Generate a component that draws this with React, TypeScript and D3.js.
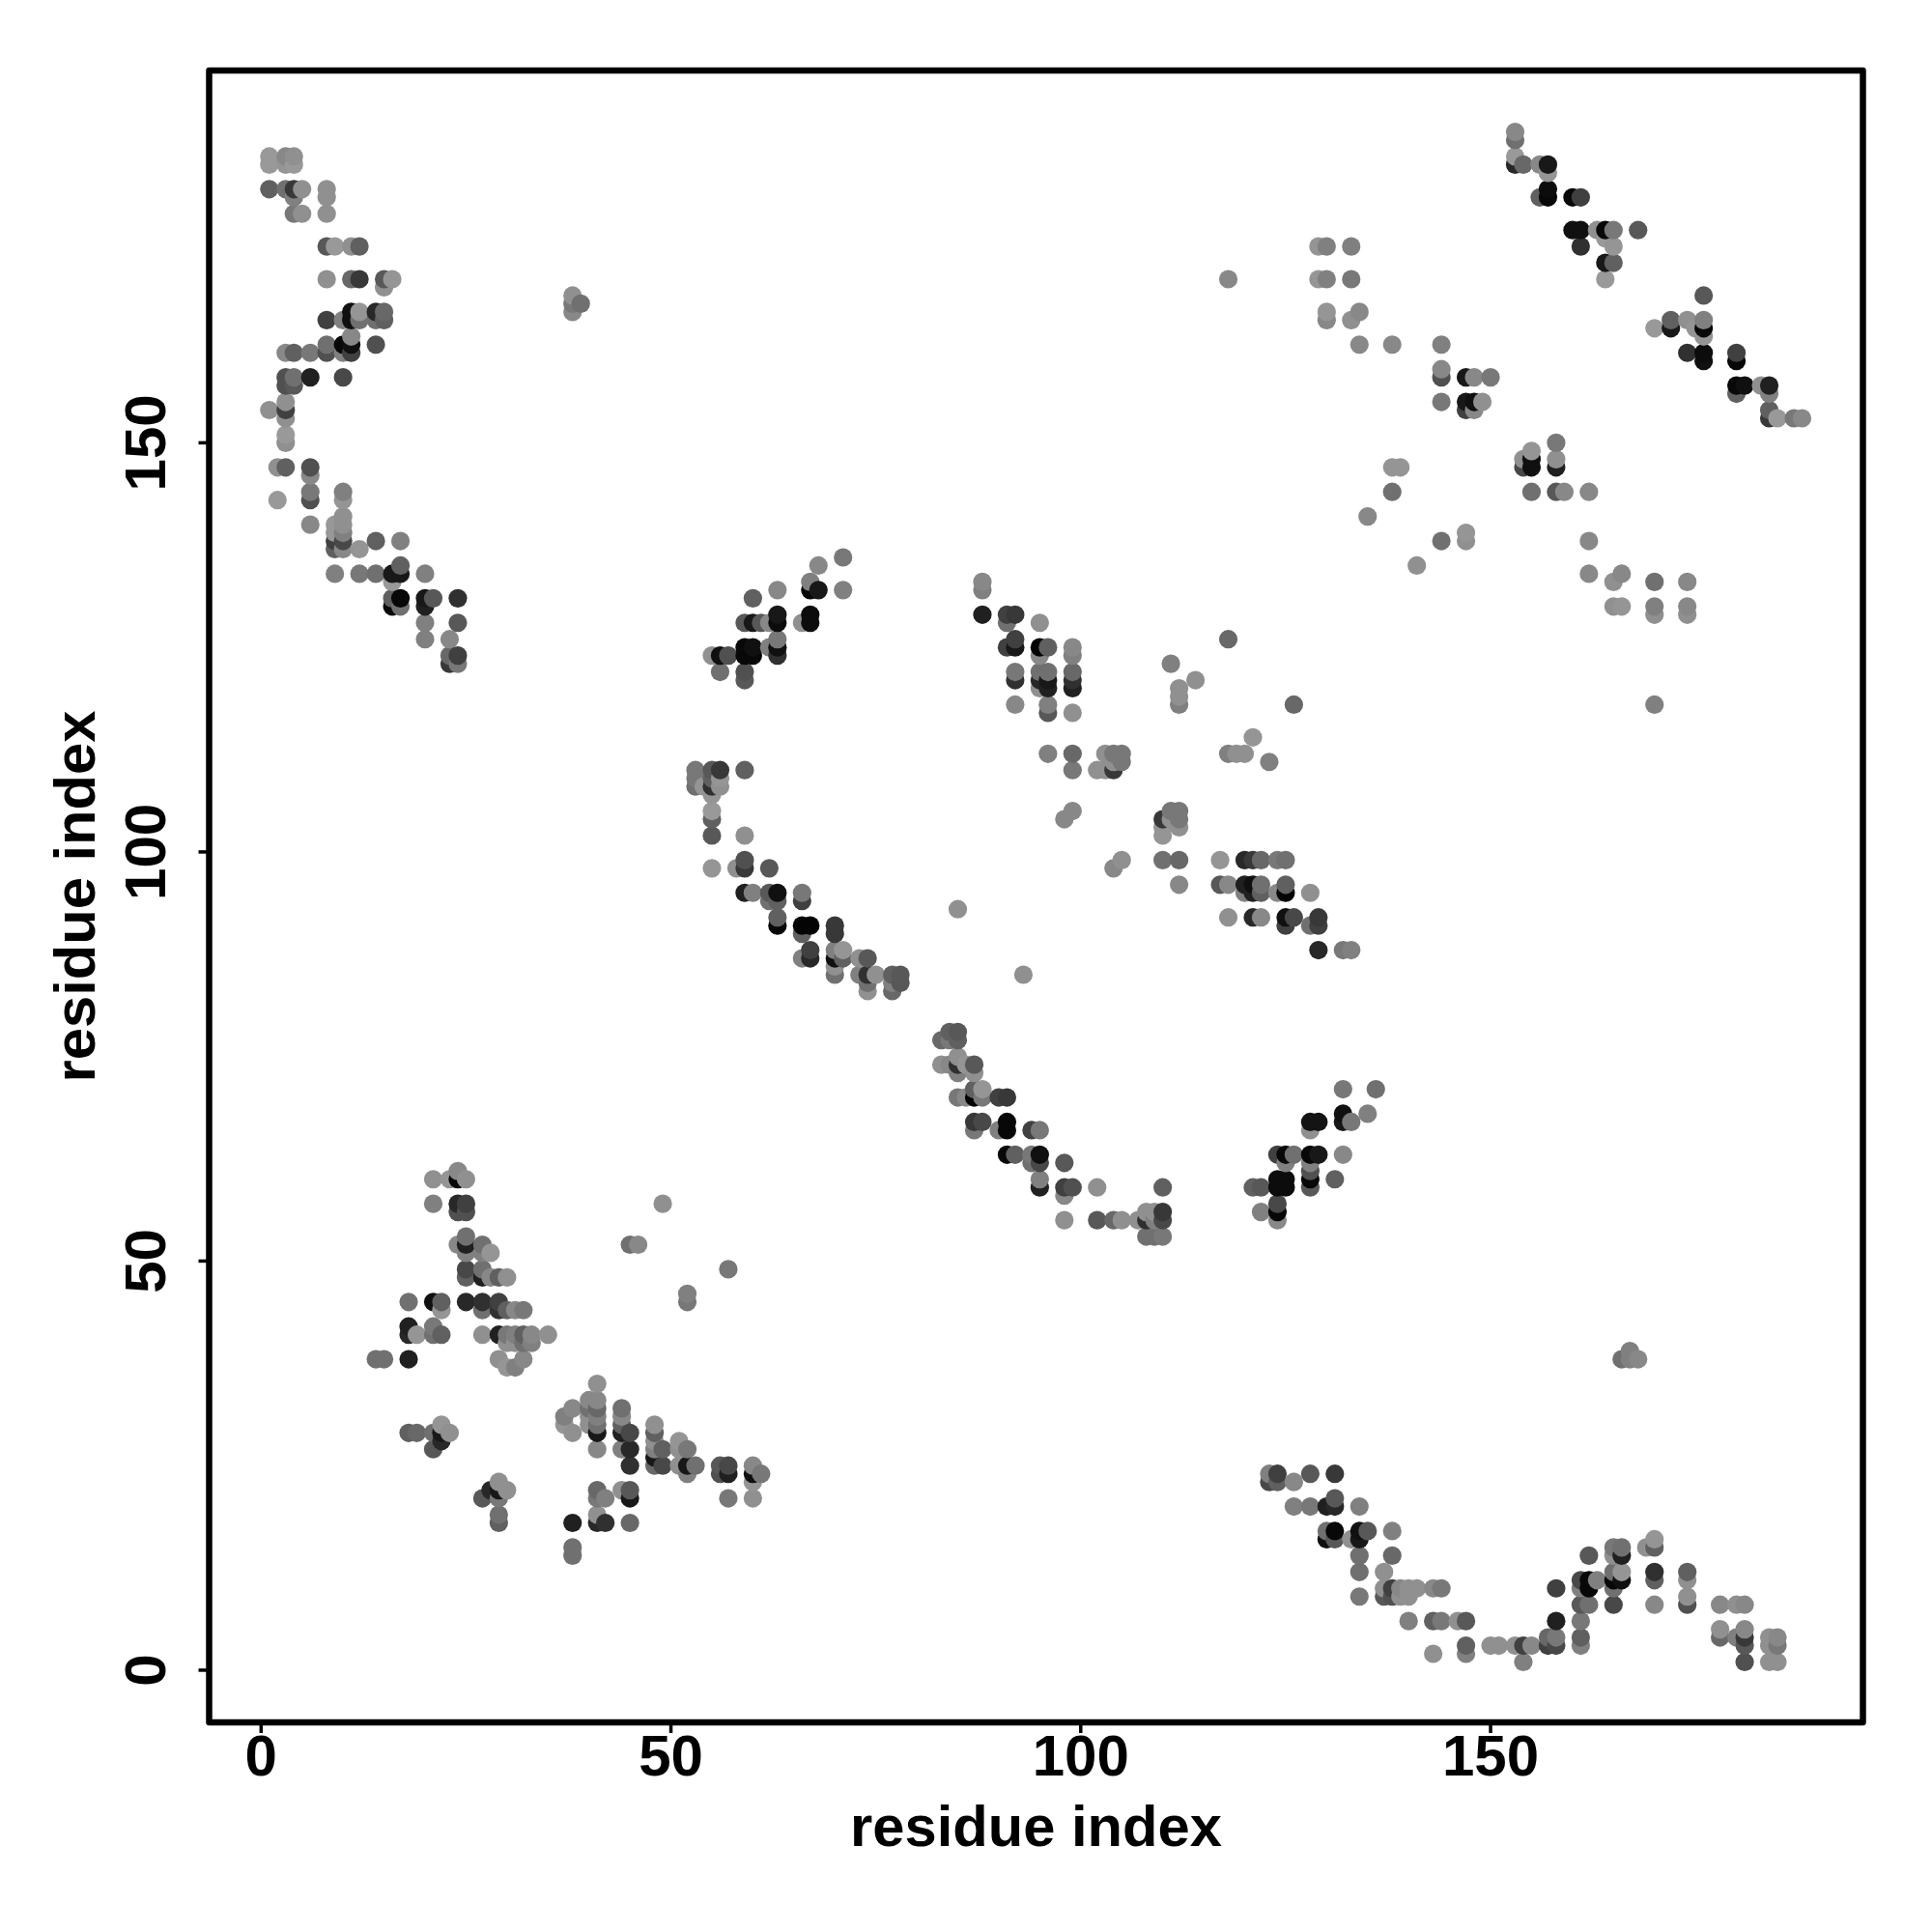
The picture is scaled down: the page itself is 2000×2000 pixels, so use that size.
// Residue contact map, drawn as grey dots on an integer residue grid
import React from 'react';
import * as d3 from 'd3';

type Contact = [number, number, number]; // residue i, residue j, grey level

const tickValues = [0, 50, 100, 150];
const axisTitle = 'residue index';

const upperLeftContacts: Contact[] = [
  [1,185,0x99],[1,184,0x99],[3,185,0x88],[3,184,0x95],[4,185,0x90],[4,184,0x99],
  [1,181,0x60],[3,181,0x70],[4,181,0x38],[5,181,0x90],[4,180,0x80],[4,178,0x78],[5,178,0x90],
  [8,181,0x90],[8,180,0x90],[8,178,0x90],[8,174,0x58],[9,174,0x99],[11,174,0x90],[12,174,0x60],
  [8,170,0x90],[11,170,0x68],[12,170,0x38],[15,170,0x58],[16,170,0x95],[15,169,0x90],
  [8,165,0x40],[10,165,0x80],[11,166,0x10],[11,165,0x10],[12,166,0x95],[12,165,0x70],
  [14,166,0x28],[15,166,0x68],[14,165,0x70],[15,165,0x60],[11,163,0x88],[10,162,0x08],[11,162,0x10],
  [14,162,0x50],[8,162,0x70],[8,161,0x50],[10,161,0x80],[11,161,0x40],[3,161,0x88],[4,161,0x60],[6,161,0x78],
  [3,158,0x50],[4,158,0x70],[3,157,0x50],[4,157,0x58],[6,158,0x20],[10,158,0x48],
  [3,155,0x90],[3,154,0x40],[1,154,0x90],[3,153,0x90],[3,151,0x99],[3,150,0x90],
  [2,147,0x90],[3,147,0x60],[6,147,0x50],[6,146,0x88],
  [6,144,0x78],[6,143,0x50],[2,143,0x99],[6,140,0x88],[10,144,0x80],[10,143,0x95],
  [10,141,0x90],[10,140,0x90],[9,140,0x98],[10,139,0x80],[9,139,0x98],[9,138,0x40],[10,138,0x48],
  [9,137,0x60],[10,137,0x88],[12,137,0x95],[14,138,0x60],[17,138,0x80],
  [9,134,0x80],[12,134,0x78],[14,134,0x70],[16,134,0x18],[17,134,0x18],[17,135,0x60],[16,133,0x99],[20,134,0x80],
  [16,131,0x60],[17,131,0x08],[16,130,0x08],[17,130,0x70],[20,131,0x18],[21,131,0x58],[20,130,0x20],[24,131,0x30],
  [20,128,0x80],[24,128,0x58],[20,126,0x80],[23,126,0x88],[23,124,0x68],[24,124,0x40],[23,123,0x38],[24,123,0x78],
  [38,168,0x90],[38,167,0x78],[38,166,0x88],[39,167,0x70],
];

const upperRightContacts: Contact[] = [
  [153,188,0x88],[153,187,0x70],[153,185,0x99],[153,184,0x28],[154,184,0x68],[156,184,0x88],[157,184,0x18],[157,183,0x95],
  [157,181,0x0c],[157,180,0x08],[156,180,0x60],[160,180,0x08],[161,180,0x40],
  [160,176,0x10],[161,176,0x10],[163,176,0x90],[164,176,0x08],[165,176,0x78],[164,175,0x99],[165,174,0x95],[161,174,0x30],
  [164,172,0x18],[165,172,0x60],[164,170,0x99],[168,176,0x58],[176,168,0x58],[170,164,0x99],[172,165,0x60],[172,164,0x18],
  [174,165,0x90],[175,164,0x95],[176,165,0x80],[176,164,0x08],[176,163,0x95],[174,161,0x30],[176,161,0x0c],[176,160,0x10],
  [180,161,0x40],[180,160,0x08],[180,157,0x08],[181,157,0x10],[183,157,0x90],[184,157,0x20],[180,156,0x60],[184,156,0x80],
  [184,154,0x60],[184,153,0x38],[185,153,0x99],[187,153,0x78],[188,153,0x88],
  [129,174,0x95],[130,174,0x80],[133,174,0x80],[129,170,0x95],[130,170,0x80],[133,170,0x78],[118,170,0x88],
  [130,166,0x95],[130,165,0x88],[134,166,0x88],[133,165,0x90],[134,162,0x88],[138,162,0x88],[144,162,0x80],
  [144,159,0x88],[144,158,0x50],[144,155,0x78],[147,158,0x18],[148,158,0x88],[150,158,0x78],
  [147,155,0x18],[148,155,0x10],[149,155,0x90],[147,154,0x40],[148,154,0x88],
  [158,150,0x78],[158,148,0x90],[158,147,0x20],[154,148,0x90],[154,147,0x48],[155,149,0x95],[155,148,0x10],[155,147,0x10],
  [155,144,0x70],[158,144,0x58],[159,144,0x88],[162,144,0x88],[138,147,0x95],[139,147,0x95],[138,144,0x70],[135,141,0x88],
  [144,138,0x70],[147,139,0x95],[147,138,0x90],[141,135,0x90],[162,138,0x88],[162,134,0x88],[166,134,0x88],[165,133,0x90],
  [170,133,0x70],[170,130,0x80],[170,129,0x90],[165,130,0x90],[166,130,0x95],[170,118,0x80],
  [174,133,0x88],[174,130,0x88],[174,129,0x90],
];

const middleLeftContacts: Contact[] = [
  [71,136,0x78],[68,135,0x88],[67,133,0x80],[67,132,0x08],[68,132,0x18],[71,132,0x80],[63,132,0x88],[60,131,0x60],
  [59,128,0x58],[60,128,0x18],[61,128,0x58],[62,128,0x88],[63,129,0x18],[63,128,0x0c],[66,128,0x90],[67,129,0x0c],[67,128,0x0c],
  [63,126,0x78],[62,125,0x80],[63,125,0x10],[63,124,0x30],[59,125,0x08],[60,125,0x10],[59,124,0x08],[60,124,0x08],
  [55,124,0x90],[56,124,0x10],[57,124,0x50],[56,122,0x70],[59,122,0x50],[59,121,0x58],
  [53,110,0x78],[55,110,0x58],[56,110,0x38],[59,110,0x60],[53,109,0x78],[53,108,0x70],[54,108,0x95],
  [55,109,0x60],[56,109,0x95],[55,108,0x30],[56,108,0x90],[55,107,0x95],[55,105,0x99],[55,104,0x60],[55,102,0x58],[59,102,0x90],
  [55,98,0x95],[58,98,0x90],[59,99,0x50],[59,98,0x38],[62,98,0x58],[59,95,0x20],[60,95,0x80],[62,95,0x58],[63,95,0x10],
  [62,94,0x70],[63,94,0x60],[66,95,0x78],[66,94,0x40],[85,93,0x90],[63,92,0x60],[63,91,0x08],[66,91,0x04],[67,91,0x04],[66,90,0x60],
  [70,91,0x38],[70,90,0x38],[66,87,0x80],[67,88,0x40],[67,87,0x28],[70,88,0x80],[71,88,0x95],[70,87,0x10],[71,87,0x60],
  [70,86,0x90],[70,85,0x70],[73,87,0x90],[74,87,0x58],[73,85,0x80],[74,85,0x30],[75,85,0x90],[74,84,0x70],[74,83,0x90],
  [77,85,0x60],[78,85,0x58],[78,84,0x58],[77,84,0x80],[77,83,0x68],
];

const middleContacts: Contact[] = [
  [88,133,0x88],[88,132,0x80],[88,129,0x20],[91,129,0x40],[92,129,0x38],[91,128,0x70],[95,128,0x90],
  [92,126,0x40],[91,125,0x40],[92,125,0x18],[95,125,0x04],[96,125,0x60],[95,124,0x88],[99,125,0x88],[99,124,0x80],
  [92,122,0x78],[92,121,0x30],[95,122,0x70],[96,122,0x70],[95,121,0x28],[96,121,0x18],[95,120,0x90],[96,120,0x20],
  [99,122,0x68],[99,121,0x30],[99,120,0x20],[92,118,0x88],[96,118,0x80],[96,117,0x58],[99,117,0x90],
  [96,112,0x80],[99,112,0x68],[99,110,0x78],[103,112,0x90],[104,112,0x78],[105,112,0x78],[105,111,0x78],
  [102,110,0x90],[103,110,0x90],[104,110,0x38],[104,111,0x90],[99,105,0x88],[98,104,0x88],
  [110,104,0x38],[111,105,0x78],[112,105,0x78],[112,104,0x78],[111,104,0x90],[110,103,0x95],[112,103,0x90],[110,102,0x95],
  [105,99,0x90],[104,98,0x88],[110,99,0x70],[112,99,0x68],[112,96,0x88],
  [117,99,0x95],[120,99,0x28],[121,99,0x38],[122,99,0x68],[124,99,0x78],[125,99,0x70],
  [117,96,0x58],[118,96,0x88],[120,96,0x20],[121,96,0x10],[122,96,0x70],[120,95,0x80],[121,95,0x20],[122,95,0x60],
  [124,95,0x88],[125,95,0x04],[125,96,0x60],[128,95,0x90],[118,92,0x90],[121,92,0x28],[122,92,0x88],
  [125,92,0x10],[126,92,0x48],[125,91,0x40],[128,91,0x70],[129,92,0x38],[129,91,0x40],[129,88,0x28],[132,88,0x78],[133,88,0x80],
  [111,123,0x80],[118,126,0x68],[114,121,0x90],[112,120,0x90],[112,119,0x90],[112,118,0x80],[126,118,0x68],
  [121,114,0x95],[118,112,0x80],[119,112,0x90],[120,112,0x90],[123,111,0x80],[93,85,0x90],
];

const centreCurveContacts: Contact[] = [
  [84,78,0x60],[85,78,0x58],[83,77,0x68],[84,77,0x78],[85,77,0x60],[85,75,0x90],[83,74,0x90],[84,74,0x88],[85,74,0x30],
  [87,74,0x58],[85,73,0x80],[86,74,0x95],[87,73,0x90],[85,70,0x78],[86,70,0x88],[87,71,0x60],[88,71,0x95],[87,70,0x04],[88,70,0x78],
  [90,70,0x40],[91,70,0x38],[87,67,0x38],[88,67,0x48],[87,66,0x78],[90,66,0x80],[91,67,0x08],[91,66,0x08],[94,66,0x40],[95,66,0x78],
  [91,63,0x08],[92,63,0x60],[94,63,0x78],[95,63,0x10],[94,62,0x70],[95,62,0x48],[98,62,0x58],[95,60,0x80],[95,59,0x20],
  [98,59,0x40],[99,59,0x50],[98,58,0x88],[102,59,0x90],[110,59,0x60],[98,55,0x90],[102,55,0x58],[104,55,0x68],[105,55,0x90],
  [107,55,0x90],[108,56,0x90],[109,56,0x90],[110,56,0x38],[108,55,0x30],[109,55,0x80],[110,55,0x48],[108,53,0x70],[109,53,0x70],[110,53,0x78],
  [132,71,0x78],[136,71,0x70],[135,68,0x80],[132,68,0x10],[132,67,0x18],[133,67,0x78],[128,67,0x14],[129,67,0x14],[128,66,0x90],
  [124,63,0x40],[125,63,0x08],[126,63,0x70],[125,62,0x80],[128,63,0x08],[129,63,0x18],[132,63,0x88],[128,62,0x80],[128,61,0x50],
  [128,60,0x08],[128,59,0x58],[131,60,0x60],[124,60,0x0c],[125,60,0x0c],[124,59,0x0c],[125,59,0x0c],[121,59,0x60],[122,59,0x58],
  [122,56,0x80],[124,57,0x48],[124,56,0x08],[124,55,0x88],
];

const lowerLeftContacts: Contact[] = [
  [21,60,0x90],[23,60,0x95],[24,61,0x88],[24,60,0x08],[25,60,0x90],[21,57,0x80],[24,57,0x28],[25,57,0x40],[24,56,0x50],[25,56,0x50],
  [25,53,0x70],[24,52,0x88],[25,52,0x20],[25,51,0x80],[27,52,0x70],[27,51,0x80],[28,51,0x95],[25,49,0x48],[25,48,0x60],
  [27,49,0x70],[27,48,0x20],[28,48,0x88],[29,48,0x60],[30,48,0x90],[18,45,0x70],[21,45,0x10],[22,45,0x60],[22,44,0x95],
  [25,45,0x28],[27,45,0x30],[27,44,0x70],[29,45,0x40],[29,44,0x30],[30,44,0x60],[31,44,0x88],[32,44,0x78],
  [18,42,0x20],[18,41,0x28],[19,41,0x95],[21,42,0x78],[21,41,0x70],[22,41,0x60],[27,41,0x90],
  [29,41,0x20],[30,41,0x78],[31,41,0x80],[32,41,0x60],[33,41,0x88],[35,41,0x90],[30,40,0x90],[31,40,0x90],[32,40,0x70],[33,40,0x80],
  [14,38,0x70],[15,38,0x70],[18,38,0x20],[29,38,0x90],[32,38,0x88],[30,37,0x95],[31,37,0x80],
  [18,29,0x60],[19,29,0x68],[21,29,0x70],[22,30,0x95],[23,29,0x90],[22,29,0x18],[22,28,0x28],[21,27,0x58],
  [29,23,0x90],[28,22,0x28],[27,21,0x58],[29,22,0x18],[30,22,0x90],[29,21,0x78],[29,19,0x70],[29,18,0x60],
  [45,52,0x70],[46,52,0x88],[49,57,0x90],[52,46,0x80],[52,45,0x78],[57,49,0x78],
  [41,35,0x90],[40,33,0x88],[41,33,0x88],[40,32,0x70],[41,32,0x68],[40,31,0x90],[41,31,0x80],[40,30,0x90],[41,30,0x70],[41,29,0x18],[41,27,0x88],
  [38,32,0x88],[37,31,0x80],[37,30,0x95],[38,29,0x90],[44,32,0x70],[44,31,0x88],[44,30,0x60],[44,29,0x20],[45,29,0x48],
  [44,27,0x80],[45,27,0x28],[45,25,0x30],[48,30,0x90],[48,29,0x60],[48,28,0x90],[48,27,0x80],[48,26,0x18],[49,27,0x60],[48,25,0x68],[49,25,0x48],
  [51,28,0x95],[52,27,0x78],[51,27,0x90],[51,25,0x90],[52,25,0x18],[53,25,0x70],[52,24,0x80],
  [56,25,0x58],[57,25,0x48],[56,24,0x50],[57,24,0x20],[60,25,0x88],[60,24,0x10],[61,24,0x78],[60,23,0x95],[57,21,0x78],[60,21,0x90],
  [41,22,0x68],[41,21,0x78],[42,21,0x80],[44,22,0x90],[45,22,0x58],[45,21,0x18],[41,19,0x90],[38,18,0x20],[41,18,0x28],[42,18,0x30],[45,18,0x68],
  [38,15,0x70],[38,14,0x70],
];

const lowerRightContacts: Contact[] = [
  [123,24,0x80],[124,24,0x40],[123,23,0x48],[124,23,0x60],[126,23,0x88],[128,24,0x58],[131,24,0x38],
  [126,20,0x80],[128,20,0x78],[130,20,0x20],[131,20,0x28],[131,21,0x58],[134,20,0x80],
  [130,17,0x70],[131,17,0x08],[130,16,0x10],[131,16,0x58],[133,16,0x90],[134,17,0x10],[135,17,0x58],[134,16,0x18],[138,17,0x80],
  [134,14,0x70],[138,14,0x68],[134,12,0x70],[137,12,0x90],[134,9,0x78],[137,10,0x90],[137,9,0x58],[138,10,0x40],[138,9,0x50],
  [139,10,0x88],[140,10,0x90],[139,9,0x90],[140,9,0x90],[141,10,0x90],[143,10,0x88],[144,10,0x78],
  [140,6,0x80],[143,6,0x60],[144,6,0x78],[146,6,0x90],[147,6,0x58],[143,2,0x90],[147,3,0x60],[147,2,0x80],
  [150,3,0x90],[151,3,0x90],[153,3,0x90],[154,3,0x40],[155,3,0x88],[154,1,0x80],
  [157,4,0x68],[158,4,0x78],[157,3,0x40],[158,3,0x48],[158,6,0x20],[158,10,0x40],[161,6,0x78],[161,4,0x60],[161,3,0x80],
  [162,14,0x58],[161,11,0x48],[162,11,0x08],[161,10,0x80],[162,10,0x08],[161,8,0x58],[162,8,0x70],[163,11,0x80],
  [165,15,0x78],[166,15,0x70],[165,14,0x90],[166,14,0x20],[165,12,0x70],[166,12,0x95],[165,11,0x08],[166,11,0x10],[165,10,0x70],[165,8,0x48],
  [169,15,0x90],[170,16,0x95],[170,15,0x60],[170,12,0x30],[170,11,0x60],[170,8,0x88],
  [174,12,0x60],[174,11,0x90],[174,9,0x90],[174,8,0x50],[178,8,0x88],[180,8,0x90],[181,8,0x88],
  [178,5,0x90],[178,4,0x68],[180,4,0x80],[181,5,0x88],[181,4,0x38],[181,3,0x58],[181,1,0x50],
  [184,4,0x90],[185,4,0x88],[184,3,0x90],[185,3,0x78],[184,1,0x90],[185,1,0x90],
  [166,38,0x70],[167,39,0x80],[167,38,0x80],[168,38,0x88],
];

const contacts = [
  ...upperLeftContacts,
  ...upperRightContacts,
  ...middleLeftContacts,
  ...middleContacts,
  ...centreCurveContacts,
  ...lowerLeftContacts,
  ...lowerRightContacts,
].sort((a, b) => d3.ascending(a[0], b[0]) || d3.ascending(a[1], b[1])); // plotted in index order

const frame = { left: 216.5, right: 1928.5, top: 73, bottom: 1783 };
const font = '"Liberation Sans", Arial, sans-serif';

export default function App() {
  const x = d3.scaleLinear().domain([-6.34, 195.43]).range([frame.left, frame.right]);
  const y = d3.scaleLinear().domain([-6.38, 195.5]).range([frame.bottom, frame.top]);

  return (
    <svg
      width={2000}
      height={2000}
      style={{ position: 'absolute', left: 0, top: 0, background: '#fff' }}
      fontFamily={font}
      fontWeight="bold"
    >
      {contacts.map(([i, j, g], k) => (
        <circle key={k} cx={x(i)} cy={y(j)} r={9.6} fill={d3.rgb(g, g, g).formatHex()} />
      ))}

      <rect
        x={frame.left}
        y={frame.top}
        width={frame.right - frame.left}
        height={frame.bottom - frame.top}
        fill="none"
        stroke="#000"
        strokeWidth={6.5}
        strokeLinejoin="round"
      />

      {/* x axis */}
      {tickValues.map((t) => (
        <g key={t}>
          <line x1={x(t)} x2={x(t)} y1={frame.bottom} y2={frame.bottom + 11} stroke="#000" strokeWidth={3.5} />
          <text x={x(t)} y={1838} fontSize={60} textAnchor="middle">{t}</text>
        </g>
      ))}
      <text x={(frame.left + frame.right) / 2} y={1911} fontSize={59.7} textAnchor="middle">{axisTitle}</text>

      {/* y axis */}
      {tickValues.map((t) => (
        <g key={t}>
          <line x1={frame.left} x2={frame.left - 11} y1={y(t)} y2={y(t)} stroke="#000" strokeWidth={3.5} />
          <text transform={`translate(171,${y(t)}) rotate(-90)`} fontSize={60} textAnchor="middle">{t}</text>
        </g>
      ))}
      <text transform={`translate(98,${(frame.top + frame.bottom) / 2}) rotate(-90)`} fontSize={59.7} textAnchor="middle">
        {axisTitle}
      </text>
    </svg>
  );
}
